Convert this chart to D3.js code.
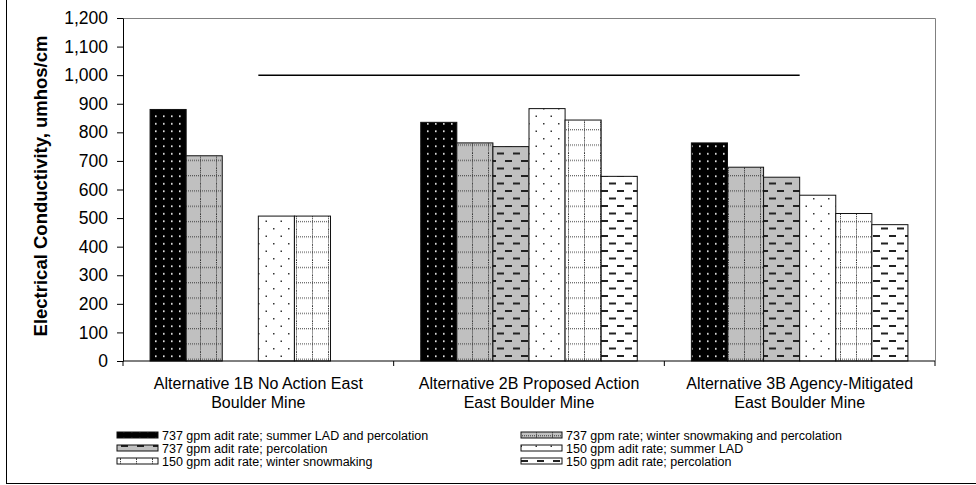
<!DOCTYPE html>
<html>
<head>
<meta charset="utf-8">
<script src="https://cdn.jsdelivr.net/npm/d3@7/dist/d3.min.js"></script>
<style>
  html, body { margin: 0; padding: 0; background: #fff; }
  svg { display: block; font-family: "Liberation Sans", Arial, sans-serif; }
</style>
</head>
<body>
<svg id="chart" width="976" height="485"></svg>
<script>
// Category labels (two lines each)
const categories = [
  ["Alternative 1B No Action East", "Boulder Mine"],
  ["Alternative 2B Proposed Action", "East Boulder Mine"],
  ["Alternative 3B Agency-Mitigated", "East Boulder Mine"]
];
const seriesNames = [
  "737 gpm adit rate; summer LAD and percolation",
  "737 gpm rate; winter snowmaking and percolation",
  "737 gpm adit rate; percolation",
  "150 gpm adit rate; summer LAD",
  "150 gpm adit rate; winter snowmaking",
  "150 gpm adit rate; percolation"
];
// Electrical conductivity (umhos/cm) per series, one value per category
const s737SummerLAD   = [880, 835, 763];
const s737WinterSnow  = [718, 763, 678];
const s737Percolation = [null, 750, 643];
const s150SummerLAD   = [507, 883, 580];
const s150WinterSnow  = [507, 843, 516];
const s150Percolation = [null, 646, 477];
const limitValues     = [1000, 1000, 1000];
const yTicks = [0,100,200,300,400,500,600,700,800,900,1000,1100,1200];

const seriesValues = [s737SummerLAD, s737WinterSnow, s737Percolation,
                      s150SummerLAD, s150WinterSnow, s150Percolation];

const svg = d3.select("#chart");
const L = 123, R = 935, T = 18, B = 361;

// ---- hatch patterns ----
const defs = svg.append("defs");
function dotsBlack(id) {
  const p = defs.append("pattern").attr("id", id).attr("patternUnits", "userSpaceOnUse")
    .attr("width", 8).attr("height", 7.5);
  p.append("rect").attr("width", 8).attr("height", 7.5).attr("fill", "#000");
  p.append("rect").attr("x", 3).attr("y", 3).attr("width", 1.6).attr("height", 1.6).attr("fill", "#fff");
}
function dottedGrid(id, fill) {
  const p = defs.append("pattern").attr("id", id).attr("patternUnits", "userSpaceOnUse")
    .attr("width", 16).attr("height", 15.3);
  p.append("rect").attr("width", 16).attr("height", 15.3).attr("fill", fill);
  p.append("line").attr("x1", 0).attr("x2", 16).attr("y1", 7.5).attr("y2", 7.5)
    .attr("stroke", "#333").attr("stroke-width", 1).attr("stroke-dasharray", "1,1");
  p.append("line").attr("x1", 8.5).attr("x2", 8.5).attr("y1", 0).attr("y2", 15.3)
    .attr("stroke", "#333").attr("stroke-width", 1).attr("stroke-dasharray", "1,1");
}
function dashes(id, fill) {
  const p = defs.append("pattern").attr("id", id).attr("patternUnits", "userSpaceOnUse")
    .attr("width", 16).attr("height", 15);
  p.append("rect").attr("width", 16).attr("height", 15).attr("fill", fill);
  p.append("rect").attr("x", 1).attr("y", 2.5).attr("width", 7).attr("height", 2).attr("fill", "#222");
  p.append("rect").attr("x", 9).attr("y", 10).attr("width", 7).attr("height", 2).attr("fill", "#222");
}
function sparseDots(id) {
  const p = defs.append("pattern").attr("id", id).attr("patternUnits", "userSpaceOnUse")
    .attr("width", 15).attr("height", 15);
  p.append("rect").attr("width", 15).attr("height", 15).attr("fill", "#fff");
  p.append("rect").attr("x", 3).attr("y", 3).attr("width", 1.5).attr("height", 1.5).attr("fill", "#333");
  p.append("rect").attr("x", 10.5).attr("y", 10.5).attr("width", 1.5).attr("height", 1.5).attr("fill", "#333");
}
dotsBlack("p0");
dottedGrid("p1", "#c0c0c0");
dashes("p2", "#c0c0c0");
sparseDots("p3");
dottedGrid("p4", "#fff");
dashes("p5", "#fff");
const fills = ["url(#p0)", "url(#p1)", "url(#p2)", "url(#p3)", "url(#p4)", "url(#p5)"];

// ---- outer frame ----
svg.append("line").attr("x1", 6.5).attr("x2", 6.5).attr("y1", 0).attr("y2", 484).attr("stroke", "#000");
svg.append("line").attr("x1", 6).attr("x2", 976).attr("y1", 483.5).attr("y2", 483.5).attr("stroke", "#000");

// ---- scales ----
const catIdx = d3.range(categories.length);
const x0 = d3.scaleBand().domain(catIdx).range([L, R]).paddingInner(0).paddingOuter(0);
const x1 = d3.scaleBand().domain(d3.range(seriesValues.length)).range([0, x0.bandwidth()])
  .paddingInner(0).paddingOuter(0.75);
const y = d3.scaleLinear().domain([0, 1200]).range([B, T]);

// plot-area border (top and right)
svg.append("path").attr("d", `M${L},${T + 0.5}H${R + 0.5}V${B}`).attr("fill", "none").attr("stroke", "#808080");

// ---- bars ----
const g = svg.append("g");
seriesValues.forEach((vals, si) => {
  g.selectAll(null).data(vals.map((v, ci) => ({ v, ci })).filter(d => d.v != null))
    .enter().append("rect")
    .attr("x", d => x0(d.ci) + x1(si))
    .attr("y", d => y(d.v))
    .attr("width", x1.bandwidth())
    .attr("height", d => y(0) - y(d.v))
    .attr("fill", fills[si])
    .attr("stroke", "#111")
    .attr("stroke-width", 1);
});

// ---- reference line at category centres ----
const line = d3.line().x((d, i) => x0(i) + x0.bandwidth() / 2).y(d => y(d));
svg.append("path").attr("d", line(limitValues)).attr("fill", "none").attr("stroke", "#000").attr("stroke-width", 1.5);

// ---- y axis ----
const yAxis = svg.append("g").attr("transform", `translate(${L},0)`)
  .call(d3.axisLeft(y).tickValues(yTicks).tickFormat(d3.format(",")).tickSize(6).tickPadding(9).tickSizeOuter(0));
yAxis.select(".domain").attr("stroke", "#000");
yAxis.selectAll(".tick line").attr("stroke", "#000");
yAxis.selectAll("text").attr("font-size", 17.5).attr("fill", "#000")
  .attr("font-family", "'Liberation Sans', Arial, sans-serif");

// ---- x axis ----
const xb = svg.append("g").attr("transform", `translate(0,${B})`);
xb.append("line").attr("x1", L).attr("x2", R).attr("stroke", "#000");
xb.selectAll(".cb").data(d3.range(categories.length + 1)).enter().append("line")
  .attr("x1", d => d < categories.length ? x0(d) : x0(d - 1) + x0.bandwidth())
  .attr("x2", d => d < categories.length ? x0(d) : x0(d - 1) + x0.bandwidth())
  .attr("y1", 0).attr("y2", 5).attr("stroke", "#000");
categories.forEach((lines, ci) => {
  const t = svg.append("text").attr("text-anchor", "middle")
    .attr("x", x0(ci) + x0.bandwidth() / 2).attr("font-size", 16).attr("fill", "#000");
  lines.forEach((s, k) => t.append("tspan").attr("x", x0(ci) + x0.bandwidth() / 2)
    .attr("y", 389 + k * 19).text(s));
});

// ---- y title ----
svg.append("text").attr("transform", `translate(47,186) rotate(-90)`)
  .attr("text-anchor", "middle").attr("font-size", 18.5).attr("font-weight", "bold")
  .text("Electrical Conductivity, umhos/cm");

// ---- legend ----
const leg = svg.append("g");
seriesNames.forEach((name, i) => {
  const col = i % 2, row = Math.floor(i / 2);
  const lx = col === 0 ? 117 : 521, ly = 435 + row * 13;
  leg.append("rect").attr("x", lx).attr("y", ly - 3).attr("width", 41).attr("height", 6)
    .attr("fill", fills[i]).attr("stroke", "#111").attr("stroke-width", 1);
  leg.append("text").attr("x", lx + 45).attr("y", ly + 4.5).attr("font-size", 12.5).text(name);
});
</script>
</body>
</html>
